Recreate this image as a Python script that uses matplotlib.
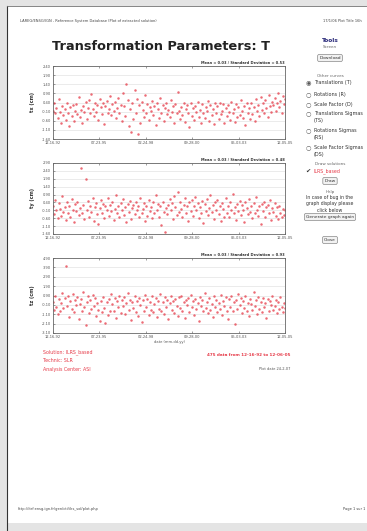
import numpy as np
import pandas as pd
import matplotlib
matplotlib.use("Agg")
import matplotlib.pyplot as plt
from matplotlib.patches import Rectangle

# ==========================================
# DATA (cm)
# ==========================================

start_date = "1992-12-16"
end_date = "2005-12-06"

tx = [
    -0.05, 0.35, -0.20, 0.10, -0.45, 0.60, -0.10, -0.70, 0.20, -0.30,
    0.05, -0.55, 0.40, -0.15, -0.90, 0.15, -0.35, 0.25, -0.60, -0.05,
    0.30, -0.25, 0.70, -0.40, 0.00, -0.75, 0.20, -0.10, 0.45, -0.50,
    0.10, 0.55, -0.20, 0.85, 0.05, -0.35, 0.40, -0.10, 0.25, -0.55,
    0.60, 0.15, -0.25, 0.35, -0.80, 0.20, 0.50, -0.15, 0.05, 0.75,
    -0.30, 0.30, -0.05, 0.45, -0.45, 0.10, 0.65, -0.20, 0.25, -0.60,
    0.90, 0.20, -0.35, 1.40, 0.55, -0.90, 0.05, -1.20, 0.35, -0.50,
    1.10, -0.15, 0.60, -1.35, 0.25, -0.70, 0.45, 0.00, -0.40, 0.80,
    -0.20, 0.30, -0.55, 0.15, -0.05, 0.50, -0.30, 0.20, -0.85, 0.40,
    0.05, -0.45, 0.65, -0.15, 0.25, -0.60, 0.10, 0.35, -0.25, 0.00,
    -0.40, 0.55, -0.10, 0.20, -0.70, 0.30, -0.20, 0.95, -0.05, -0.50,
    0.15, -0.30, 0.40, -0.65, 0.05, 0.25, -0.15, -0.95, 0.35, -0.35,
    0.10, -0.55, 0.20, -0.10, 0.45, -0.40, 0.00, -0.75, 0.30, -0.20,
    -0.45, 0.15, -0.05, 0.50, -0.60, 0.25, -0.30, 0.05, -0.80, 0.35,
    -0.15, 0.20, -0.50, 0.40, -0.25, -0.05, 0.30, -0.70, 0.10, -0.35,
    0.25, -0.10, -0.55, 0.45, -0.20, 0.05, -0.65, 0.30, -0.40, 0.15,
    -0.30, 0.55, -0.05, -0.45, 0.20, -0.85, 0.35, -0.15, 0.10, -0.50,
    0.40, -0.25, 0.15, -0.60, 0.60, -0.05, 0.25, -0.35, 0.70, 0.00,
    0.35, -0.20, 0.55, 0.10, -0.40, 0.80, 0.20, -0.10, 0.45, 0.25,
    0.65, -0.05, 0.40, 0.90, 0.15, 0.50, -0.15, 0.75, 0.30, 0.60,
]

ty = [
    0.20, -0.35, 0.55, -0.10, -0.60, 0.35, 0.00, -0.45, 0.80, -0.20,
    0.10, -0.70, 0.40, -0.25, 0.15, -0.55, 0.60, -0.05, -0.85, 0.30,
    -0.15, 0.45, -0.40, 0.05, 2.60, -0.30, 0.25, -0.65, 1.90, -0.10,
    0.50, -0.50, 0.20, -0.20, 0.70, -0.75, 0.10, 0.35, -0.35, -0.95,
    0.05, 0.55, -0.25, 0.30, -0.60, 0.15, -0.05, 0.65, -0.45, 0.25,
    -0.15, 0.40, -0.70, 0.00, 0.85, -0.30, 0.20, -0.55, 0.35, -0.10,
    0.60, -0.40, 0.10, -0.85, 0.30, -0.20, 0.50, -0.65, 0.05, 0.25,
    -0.35, 0.45, -0.10, 0.15, -0.55, 0.70, -0.25, 0.00, 0.35, -0.75,
    0.20, -0.45, 0.55, -0.15, 0.10, -0.60, 0.40, -0.30, 0.90, -0.05,
    0.30, -0.50, 0.15, -1.05, 0.45, -0.20, -1.50, 0.05, -0.35, 0.25,
    0.60, -0.10, 0.35, -0.65, 0.80, 0.10, -0.40, 1.05, -0.20, 0.45,
    0.00, -0.55, 0.25, 0.65, -0.30, 0.15, -0.80, 0.40, -0.15, 0.55,
    -0.45, 0.20, 0.75, -0.05, 0.35, -0.60, 0.10, -0.25, 0.50, -0.90,
    0.30, -0.15, 0.60, -0.40, 0.05, 0.85, -0.20, 0.25, -0.65, 0.40,
    -0.10, 0.55, -0.35, 0.15, -0.75, 0.35, 0.00, -0.50, 0.70, -0.25,
    0.20, -0.55, 0.45, -0.05, 0.95, -0.30, 0.10, -0.70, 0.30, -0.15,
    0.50, -0.40, 0.25, -0.10, -0.85, 0.40, 0.05, -0.35, 0.60, -0.20,
    0.15, -0.60, 0.35, -0.25, 0.75, -0.05, -0.45, 0.20, -0.95, 0.30,
    -0.15, 0.45, -0.50, 0.10, 0.25, -0.30, 0.55, -0.70, 0.05, -0.20,
    0.35, -0.45, 0.10, -0.65, 0.20, -0.25, -0.55, 0.00, -0.40, -0.10,
]

tz = [
    0.20, -0.60, 0.80, -0.30, -1.10, 0.50, -0.80, 0.10, 1.20, -0.40,
    0.60, 4.00, -0.20, 0.90, -1.40, 0.30, -0.50, 1.10, -0.90, 0.40,
    -0.10, 0.70, -1.60, 0.00, 0.50, -0.70, 1.30, -0.30, -2.20, 0.20,
    0.80, -1.00, 0.40, -0.50, 1.00, -0.20, 0.60, -1.30, 0.10, -0.60,
    -1.80, 0.30, -0.90, 0.70, -0.40, -2.00, 0.20, -1.20, 0.50, -0.70,
    1.10, 0.00, -0.80, 0.60, -1.50, 0.30, -0.30, 0.90, -1.00, 0.40,
    -0.20, 0.70, -1.10, 0.10, 1.20, -0.60, 0.40, -1.70, 0.20, -0.40,
    0.80, -0.90, 0.30, -1.30, 0.60, -0.10, -1.90, 0.40, -0.70, 1.00,
    -0.30, 0.50, -1.20, 0.20, -0.60, 0.90, -0.90, 0.00, 0.60, -1.40,
    0.30, -0.50, 1.10, -0.80, 0.20, -1.10, 0.70, -0.30, 0.40, -1.60,
    0.10, 0.80, -0.60, 0.30, -1.00, 0.50, -0.20, -1.30, 0.70, -0.40,
    0.90, -0.70, 0.20, -1.50, 0.40, -0.10, 0.60, -0.90, 1.00, -0.30,
    0.30, -1.20, 0.50, -0.50, 0.10, -1.80, 0.70, -0.20, 0.40, -0.80,
    1.20, -0.40, 0.20, -1.00, 0.60, -0.60, 0.00, -1.40, 0.80, -0.30,
    0.40, -0.90, 0.10, -0.50, 1.00, -1.20, 0.30, -0.20, 0.70, -0.70,
    -1.60, 0.50, -0.30, 0.80, -0.80, 0.20, -2.10, 0.40, -0.50, 1.10,
    -0.10, 0.60, -1.00, 0.30, -0.40, 0.90, -0.70, 0.10, -1.30, 0.50,
    0.00, -0.60, 1.30, -0.20, 0.40, -1.10, 0.70, -0.50, 0.20, -0.90,
    0.60, -0.30, 0.10, -1.50, 0.50, -0.80, 0.30, -0.10, 0.80, -0.60,
    -0.20, 0.40, -1.00, 0.20, -0.50, 0.70, -0.30, -0.90, 0.10, -0.40,
]

panel_names = ["tx (cm)", "ty (cm)", "tz (cm)"]
panel_stats = [
    "Mean = 0.03 / Standard Deviation = 0.53",
    "Mean = 0.03 / Standard Deviation = 0.48",
    "Mean = 0.03 / Standard Deviation = 0.93",
]
panel_yticks = [
    [-1.60, -1.10, -0.60, -0.10, 0.40, 0.90, 1.40, 1.90, 2.40],
    [-1.60, -1.10, -0.60, -0.10, 0.40, 0.90, 1.40, 1.90, 2.40, 2.90],
    [-3.10, -2.10, -1.10, -0.10, 0.90, 1.90, 2.90, 3.90, 4.90],
]
date_labels = ["12-16-92", "07-23-95", "02-24-98", "09-28-00", "05-03-03", "12-05-05"]

radio_items = [
    ("Translations (T)", True),
    ("Rotations (R)", False),
    ("Scale Factor (D)", False),
    ("Translations Sigmas\n(TS)", False),
    ("Rotations Sigmas\n(RS)", False),
    ("Scale Factor Sigmas\n(DS)", False),
]

# ==========================================
# PAGE LAYOUT (pixel helpers)
# ==========================================

W, H = 367, 531
RED = "#e63a48"
GREY = "#555555"


def fx(x):
    return x / W


def fy(y):
    return 1 - y / H


fig = plt.figure(figsize=(W / 100, H / 100), dpi=100)
fig.patch.set_facecolor("#e4e4e4")

# white page with a dark border on the left/top
fig.patches.append(Rectangle((fx(8), fy(523)), fx(W) - fx(8), fy(7) - fy(523),
                             transform=fig.transFigure, facecolor="white",
                             edgecolor="none", zorder=-5))
fig.lines.append(plt.Line2D([fx(7), fx(7)], [fy(6), fy(531)],
                            transform=fig.transFigure, color="#333333",
                            lw=0.8, zorder=-4))
fig.lines.append(plt.Line2D([fx(7), fx(W)], [fy(6), fy(6)],
                            transform=fig.transFigure, color="#777777",
                            lw=0.6, zorder=-4))

# header / footer
fig.text(fx(20), fy(21), "LAREG/ENSG/IGN - Reference System Database (Plot of extracted solution)",
         fontsize=2.6, color="#444444", va="center")
fig.text(fx(323), fy(21), "17/1/06 Plot Title 16h",
         fontsize=2.6, color="#444444", va="center")
fig.text(fx(18), fy(509), "http://itrf.ensg.ign.fr/gen/cti/ilrs_sol/plot.php",
         fontsize=2.6, color="#444444", va="center")
fig.text(fx(365), fy(509), "Page 1 sur 1",
         fontsize=2.6, color="#444444", ha="right", va="center")

# title
fig.text(fx(161), fy(46), "Transformation Parameters: T",
         fontsize=9.3, fontweight="bold", color="#222222", ha="center", va="center")

# ==========================================
# THREE TIME SERIES PANELS
# ==========================================

panel_rows = [(66, 139), (163, 234), (258, 333)]
series = [tx, ty, tz]
tick_dates = pd.date_range(start_date, end_date, periods=len(date_labels))

for i, (top, bottom) in enumerate(panel_rows):
    ax = fig.add_axes([fx(53), fy(bottom), fx(285) - fx(53), fy(top) - fy(bottom)])
    vals = series[i]
    dates = pd.date_range(start_date, end_date, periods=len(vals))
    ax.plot(dates, vals, linestyle="none", marker="o", ms=1.8,
            mew=0, color=RED, alpha=0.75)

    yt = panel_yticks[i]
    ax.set_ylim(yt[0], yt[-1])
    ax.set_yticks(yt)
    ax.set_yticklabels(["%.2f" % v for v in yt])
    ax.set_xlim(tick_dates[0], tick_dates[-1])
    ax.set_xticks(tick_dates)
    ax.set_xticklabels(date_labels)

    ax.grid(axis="y", color="#dcdcdc", lw=0.4)
    ax.set_axisbelow(True)
    ax.tick_params(labelsize=2.6, colors=GREY, length=1.5, width=0.4,
                   pad=1.5, top=True, direction="in")
    for s in ax.spines.values():
        s.set_color("#666666")
        s.set_linewidth(0.6)

    ax.set_ylabel(panel_names[i], fontsize=3.6, fontweight="bold",
                  color="#333333", labelpad=5)
    ax.text(1.0, 1.012, panel_stats[i], transform=ax.transAxes,
            fontsize=2.6, fontweight="bold", color="#333333",
            ha="right", va="bottom")

    if i == 2:
        ax.set_xlabel("date (mm-dd-yy)", fontsize=2.6, color=GREY, labelpad=0.5)

# solution information
fig.text(fx(43), fy(352), "Solution: ILRS_based", fontsize=3.4, color=RED, va="center")
fig.text(fx(43), fy(361), "Technic: SLR", fontsize=3.4, color=RED, va="center")
fig.text(fx(43), fy(370), "Analysis Center: ASI", fontsize=3.4, color=RED, va="center")
fig.text(fx(290), fy(355), "475 data from 12-16-92 to 12-06-05", fontsize=3.0,
         color=RED, fontweight="bold", ha="right", va="center")
fig.text(fx(290), fy(369), "Plot date 24-2-07", fontsize=2.6,
         color=GREY, ha="right", va="center")

# ==========================================
# SIDE TOOLS MENU
# ==========================================

btn = dict(boxstyle="round,pad=0.35", fc="#f2f2f2", ec="#888888", lw=0.5)
cx = fx(330)

fig.text(cx, fy(40), "Tools", fontsize=4.2, fontweight="bold", color="#2a2a7a",
         ha="center", va="center")
fig.text(cx, fy(47), "Screen", fontsize=3.0, color="#666666", ha="center", va="center")
fig.text(cx, fy(58), "Download", fontsize=3.2, color="#333333", ha="center",
         va="center", bbox=btn)
fig.text(cx, fy(76), "Other curves", fontsize=3.0, color="#666666", ha="center", va="center")

radio_y = [83, 95, 105, 114, 131, 148]
for (label, on), y in zip(radio_items, radio_y):
    fig.text(fx(308), fy(y), "\u25c9" if on else "\u25cb", fontsize=4.5,
             color="#555555", ha="center", va="center")
    fig.text(fx(314), fy(y - 3), label, fontsize=3.5, color="#333333",
             va="top", linespacing=1.5)

fig.text(cx, fy(164), "Draw solutions", fontsize=3.0, color="#666666", ha="center", va="center")
fig.text(fx(308), fy(171), "\u2714", fontsize=4.5, color="#333333", ha="center", va="center")
fig.text(fx(314), fy(171), "ILRS_based", fontsize=3.4, color=RED, va="center")
fig.text(cx, fy(181), "Draw", fontsize=3.2, color="#333333", ha="center",
         va="center", bbox=btn)
fig.text(cx, fy(192), "Help", fontsize=3.0, color="#666666", ha="center", va="center")
fig.text(cx, fy(204), "In case of bug in the\ngraph display please\nclick below",
         fontsize=3.3, color="#333333", ha="center", va="center", linespacing=1.4)
fig.text(cx, fy(217), "Generate graph again", fontsize=3.2, color="#333333",
         ha="center", va="center", bbox=btn)
fig.text(cx, fy(240), "Close", fontsize=3.2, color="#333333", ha="center",
         va="center", bbox=btn)

plt.savefig("out.png", dpi=100, facecolor=fig.get_facecolor())
